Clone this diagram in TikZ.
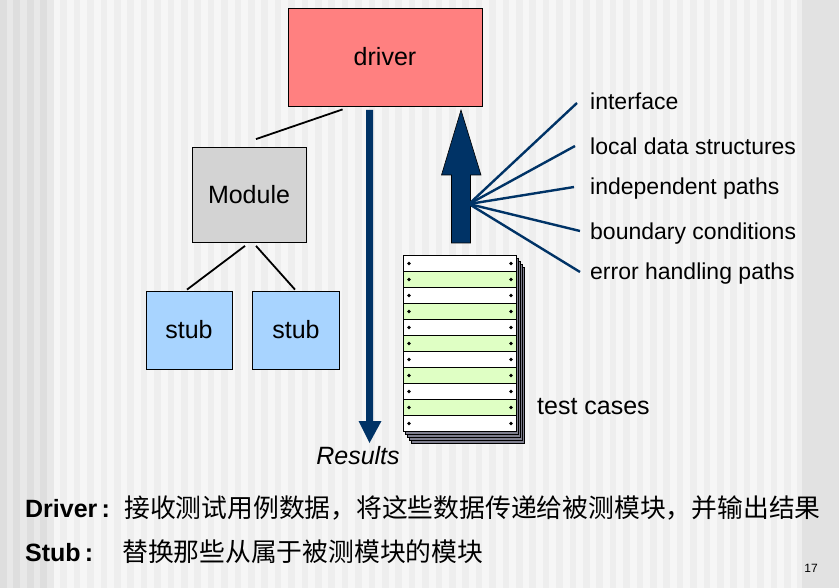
\documentclass[tikz,border=0pt]{standalone}
\usepackage{fontspec}
\setmainfont{Liberation Sans}
\newfontfamily\cjk{Noto Sans CJK SC}
\usetikzlibrary{calc}
\definecolor{navy}{HTML}{003366}
\definecolor{drvred}{HTML}{FF8080}
\definecolor{modgray}{HTML}{D3D3D3}
\definecolor{stubblue}{HTML}{A8D4FF}
\definecolor{rowgreen}{HTML}{DFFFC4}
\definecolor{layergray}{HTML}{7E7E8E}
\definecolor{bgA}{HTML}{EEEEEE}
\definecolor{bgB}{HTML}{F6F6F6}
\definecolor{bgC}{HTML}{DEDEDE}
\definecolor{bgD}{HTML}{E8E8E8}
\tikzset{
  boxnode/.style={draw=black, line width=0.8pt, inner sep=0pt, font=\fontsize{25}{30}\selectfont},
  sidelabel/.style={anchor=base west, inner sep=0pt, font=\fontsize{23}{28}\selectfont},
  link/.style={draw=black, line width=1.8pt},
  fanline/.style={draw=navy, line width=2.4pt},
}
\begin{document}
\begin{tikzpicture}[x=1pt,y=-1pt]
% background
\fill[bgA] (0,0) rectangle (839,588);
\fill[bgC] (0,0) rectangle (54,588);
\foreach \i in {0,...,3} {
  \fill[bgD] (\i*13.4+6.7,0) rectangle (\i*13.4+13.4,588);
}
\foreach \i in {4,...,59} {
  \fill[bgB] (\i*13.4,0) rectangle (\i*13.4+6.7,588);
}
\fill[bgA!95!black] (802,0) rectangle (839,588);
\useasboundingbox (0,0) rectangle (839,588);

% boxes
\node[boxnode, fill=drvred, minimum width=194pt, minimum height=98pt] (driver) at (385,57) {driver};
\node[boxnode, fill=modgray, minimum width=114pt, minimum height=95pt] (module) at (249,195) {Module};
\node[boxnode, fill=stubblue, minimum width=86pt, minimum height=78pt] (stubA) at (189,330) {stub};
\node[boxnode, fill=stubblue, minimum width=87pt, minimum height=78pt] (stubB) at (296,330) {stub};

% tree links
\draw[link] ($(driver.south west)+(55,3)$) -- ($(module.north)+(7,-8)$);
\draw[link] ($(module.south)+(-4,3)$) -- ($(stubA.north)+(-2,-1)$);
\draw[link] ($(module.south)+(7,3)$) -- ($(stubB.north)+(-1,-1)$);

% down arrow (Results)
\coordinate (dtop) at (369.5,110);
\coordinate (dtip) at (369.5,443);
\fill[navy] ($(dtop)+(-3.5,0)$) -- ($(dtop)+(3.5,0)$) -- ($(dtip)+(3.5,-22)$) -- ($(dtip)+(12,-22)$)
  -- (dtip) -- ($(dtip)+(-11,-22)$) -- ($(dtip)+(-3.5,-22)$) -- cycle;
\node[font=\fontsize{25}{30}\selectfont\itshape, inner sep=0pt] (results) at (358,456) {Results};

% up arrow
\coordinate (ubase) at (461,243);
\coordinate (utip) at (461,110);
\filldraw[fill=navy, draw=black, line width=0.6pt]
  ($(ubase)+(-9.5,0)$) -- ($(ubase)+(9.5,0)$) -- ($(ubase)+(9.5,-68)$) -- ($(ubase)+(20,-68)$)
  -- (utip) -- ($(ubase)+(-19.5,-68)$) -- ($(ubase)+(-9.5,-68)$) -- cycle;

% labels
\node[sidelabel] (lint) at (590,110) {interface};
\node[sidelabel] (lloc) at (590,155) {local data structures};
\node[sidelabel] (lind) at (590,195) {independent paths};
\node[sidelabel] (lbnd) at (590,240) {boundary conditions};
\node[sidelabel] (lerr) at (590,280) {error handling paths};

% fan
\coordinate (fan) at (469,204);
\coordinate (eint) at (577,103);
\coordinate (eloc) at (575,146);
\coordinate (eind) at (574,187);
\coordinate (ebnd) at (580,231);
\coordinate (eerr) at (580,272);
\foreach \e in {eint,eloc,eind,ebnd,eerr} {
  \draw[fanline] (fan) -- (\e);
}

% test case stack
\foreach \k in {4,3,2,1} {
  \filldraw[fill=layergray, draw=black, line width=0.6pt]
    (403+2*\k,255+3*\k) rectangle (516+2*\k,431+3*\k);
}
\foreach \i in {0,...,10} {
  \pgfmathsetmacro\yy{255+16*\i}
  \ifodd\i
    \filldraw[fill=rowgreen, draw=black, line width=0.6pt] (403,\yy) rectangle (516,\yy+16);
  \else
    \filldraw[fill=white, draw=black, line width=0.6pt] (403,\yy) rectangle (516,\yy+16);
  \fi
  \fill[black] (409,\yy+8.5) circle (1.8);
  \fill[black] (511,\yy+8.5) circle (1.8);
}
\node[anchor=west, inner sep=0pt, font=\fontsize{25}{30}\selectfont] (tc) at (537,407) {test cases};

% bottom text
\node[anchor=base west, inner sep=0pt, font=\fontsize{25}{30}\selectfont\bfseries] (drvlbl) at (25,517) {Driver\,:};
\node[anchor=base west, inner sep=0pt, font=\fontsize{25.8}{30}\selectfont\cjk] (drvtxt) at (124,517) {接收测试用例数据，将这些数据传递给被测模块，并输出结果};
\node[anchor=base west, inner sep=0pt, font=\fontsize{25}{30}\selectfont\bfseries] (stblbl) at (25,561) {Stub\,:};
\node[anchor=base west, inner sep=0pt, font=\fontsize{25.8}{30}\selectfont\cjk] (stbtxt) at (122,561) {替换那些从属于被测模块的模块};
\node[inner sep=0pt, font=\fontsize{12}{14}\selectfont] (pg) at (811,568) {17};
\end{tikzpicture}
\end{document}
